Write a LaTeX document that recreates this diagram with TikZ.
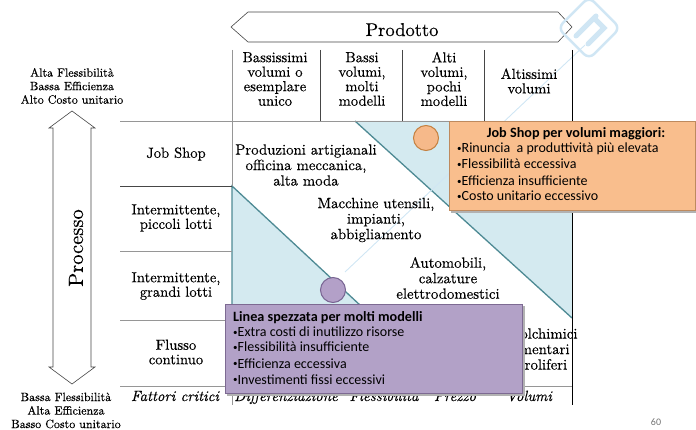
\documentclass[tikz,border=0pt]{standalone}
\usepackage{fontspec}
\setmainfont{lmroman10-regular.otf}[ItalicFont=lmroman10-italic.otf, BoldFont=lmroman10-bold.otf, FakeBold=0.3]
\newfontfamily\calfont{Carlito}
\definecolor{lblue}{RGB}{212,234,240}
\definecolor{tealln}{RGB}{78,138,148}
\definecolor{ofill}{RGB}{249,190,141}
\definecolor{oborder}{RGB}{190,138,94}
\definecolor{pfill}{RGB}{178,161,199}
\definecolor{pborder}{RGB}{125,106,146}
\definecolor{ocf}{RGB}{246,185,138}
\definecolor{ocb}{RGB}{196,128,64}
\definecolor{pcf}{RGB}{179,160,200}
\definecolor{pcb}{RGB}{120,100,146}
\definecolor{wmark}{RGB}{208,230,244}
\definecolor{gline}{RGB}{150,150,150}
\definecolor{dline}{RGB}{70,70,70}
\newcommand{\smbul}{\raisebox{1.2pt}{\fontsize{9}{9}\selectfont •}}
\begin{document}
\begin{tikzpicture}[x=1pt,y=-1pt,
  hdr/.style={font=\fontsize{14.6}{14.5}\selectfont, align=center, inner sep=0pt},
  cell/.style={font=\fontsize{14.8}{15.5}\selectfont, align=center, inner sep=0pt},
  crit/.style={font=\fontsize{14.8}{15}\selectfont\itshape, inner sep=0pt, anchor=base},
  side/.style={font=\fontsize{12}{13.5}\selectfont, align=center, inner sep=0pt},
  boxtitle/.style={font=\calfont\bfseries\fontsize{14.2}{15}\selectfont, inner sep=0pt},
  boxline/.style={font=\calfont\fontsize{14}{15}\selectfont, inner sep=0pt, anchor=base west},
  arrowshape/.style={draw=dline, fill=white, line width=0.6pt, line join=miter}]
\useasboundingbox (0,0) rectangle (696,430);

% light blue triangles
\fill[lblue] (355,121) -- (572,121) -- (572,318) -- cycle;
\fill[lblue] (232,186) -- (447,386) -- (232,386) -- cycle;
\draw[tealln, line width=1.3pt] (355,121) -- (572,318);
\draw[tealln, line width=1.3pt] (232,386) -- (232,186) -- (447,386);

% watermark line
\draw[wmark, line width=0.9pt] (345,272) -- (585,45);

% grid lines
\draw[gline, line width=0.7pt] (120,121) -- (572,121);
\draw[dline, line width=0.7pt] (120,186) -- (232,186);
\draw[gline, line width=0.7pt] (120,251) -- (232,251);
\draw[gline, line width=0.7pt] (120,320) -- (232,320);
\draw[gline, line width=0.7pt] (120,386) -- (572,386);
\draw[gline, line width=0.7pt] (232,50) -- (232,186);
\draw[gline, line width=0.7pt] (232,386) -- (232,405);
\draw[dline, line width=0.7pt] (320,50) -- (320,121);
\draw[dline, line width=0.7pt] (402,50) -- (402,121);
\draw[dline, line width=0.7pt] (484,50) -- (484,121);
\draw[black, line width=0.8pt] (572,50) -- (572,405);

% Prodotto arrow
\draw[arrowshape] (231,27) -- (248,12) -- (558,12) -- (572,27) -- (558,42) -- (248,42) -- cycle;
\node[font=\fontsize{18.5}{18.5}\selectfont, inner sep=0pt, anchor=base] (prod) at (402,36) {Prodotto};

% Processo arrow
\draw[arrowshape] (72,111) -- (95,128) -- (91,128) -- (91,367) -- (95,367) -- (72,384) -- (49,367) -- (53,367) -- (53,128) -- (49,128) -- cycle;
\node[font=\fontsize{20.5}{21}\selectfont, inner sep=0pt, rotate=90] (proc) at (76,248) {Processo};

% side texts
\node[side] (topside) at (72,86) {Alta Flessibilità\\Bassa Efficienza\\Alto Costo unitario};
\node[side] (botside) at (66,410.5) {Bassa Flessibilità\\Alta Efficienza\\Basso Costo unitario};

% column headers
\node[hdr] (c1) at (275,79) {Bassissimi\\volumi o\\esemplare\\unico};
\node[hdr] (c2) at (362,79) {Bassi\\volumi,\\molti\\modelli};
\node[hdr] (c3) at (444,79) {Alti\\volumi,\\pochi\\modelli};
\node[hdr] (c4) at (529,81) {Altissimi\\volumi};

% row labels
\node[hdr] (r1) at (176,154) {Job Shop};
\node[hdr] (r2) at (176,218) {Intermittente,\\piccoli lotti};
\node[hdr] (r3) at (176,286) {Intermittente,\\grandi lotti};
\node[hdr] (r4) at (176,352) {Flusso\\continuo};
\node[crit] (fc) at (175,401) {Fattori critici};

% bottom row (clipped)
\begin{scope}
\clip (232,386) rectangle (572,404.5);
\node[crit] (f1) at (286,401) {Differenziazione};
\node[crit] (f2) at (384,401) {Flessibilità};
\node[crit] (f3) at (455,401) {Prezzo};
\node[crit] (f4) at (529,401) {Volumi};
\end{scope}

% cell texts
\node[cell] (t1) at (306,165) {Produzioni artigianali\\officina meccanica,\\alta moda};
\node[cell] (t2) at (376,220) {Macchine utensili,\\impianti,\\abbigliamento};
\node[cell] (t3) at (448,278) {Automobili,\\calzature\\elettrodomestici};
\node[cell] (t4) at (535,349) {Petrolchimici\\Alimentari\\Petroliferi};

% circles
\node[circle, draw=ocb, fill=ocf, line width=1pt, minimum size=25pt, inner sep=0pt] (oc) at (426,138) {};
\node[circle, draw=pcb, fill=pcf, line width=1pt, minimum size=25pt, inner sep=0pt] (pc) at (333,290) {};

% orange box
\fill[black!30] (451,124) rectangle (697,213);
\node[draw=oborder, fill=ofill, line width=1pt, minimum width=246pt, minimum height=89pt, anchor=north west, inner sep=0pt] (obox) at (449,121) {};
\node[boxtitle, anchor=base] (otitle) at (576,138) {Job Shop per volumi maggiori:};
\node[boxline] (o1) at (457,153) {\smbul Rinuncia\ \ a produttività più elevata};
\node[boxline] (o2) at (457,169) {\smbul Flessibilità eccessiva};
\node[boxline] (o3) at (457,186) {\smbul Efficienza insufficiente};
\node[boxline] (o4) at (457,201) {\smbul Costo unitario eccessivo};

% purple box
\fill[black!30] (227,306) rectangle (525,396);
\node[draw=pborder, fill=pfill, line width=1pt, minimum width=297pt, minimum height=89pt, anchor=north west, inner sep=0pt] (pbox) at (225,304) {};
\node[boxtitle, anchor=base west] (ptitle) at (233,321) {Linea spezzata per molti modelli};
\node[boxline] (p1) at (233,337) {\smbul Extra costi di inutilizzo risorse};
\node[boxline] (p2) at (233,352) {\smbul Flessibilità insufficiente};
\node[boxline] (p3) at (233,368) {\smbul Efficienza eccessiva};
\node[boxline] (p4) at (233,384) {\smbul Investimenti fissi eccessivi};

% watermark logo
\node[draw=wmark, rounded corners=7pt, minimum size=44pt, rotate=45, line width=2.5pt, inner sep=0pt] (logo) at (589,28) {};
\draw[wmark, line width=5pt, line cap=round] (576,36) -- (596,16);
\draw[wmark, line width=5pt, line cap=round] (588,44) -- (604,28) -- (596,20);

% page number
\node[font=\calfont\fontsize{10}{10}\selectfont, text=black!55, inner sep=0pt] (pg) at (656,422) {60};
\end{tikzpicture}
\end{document}
